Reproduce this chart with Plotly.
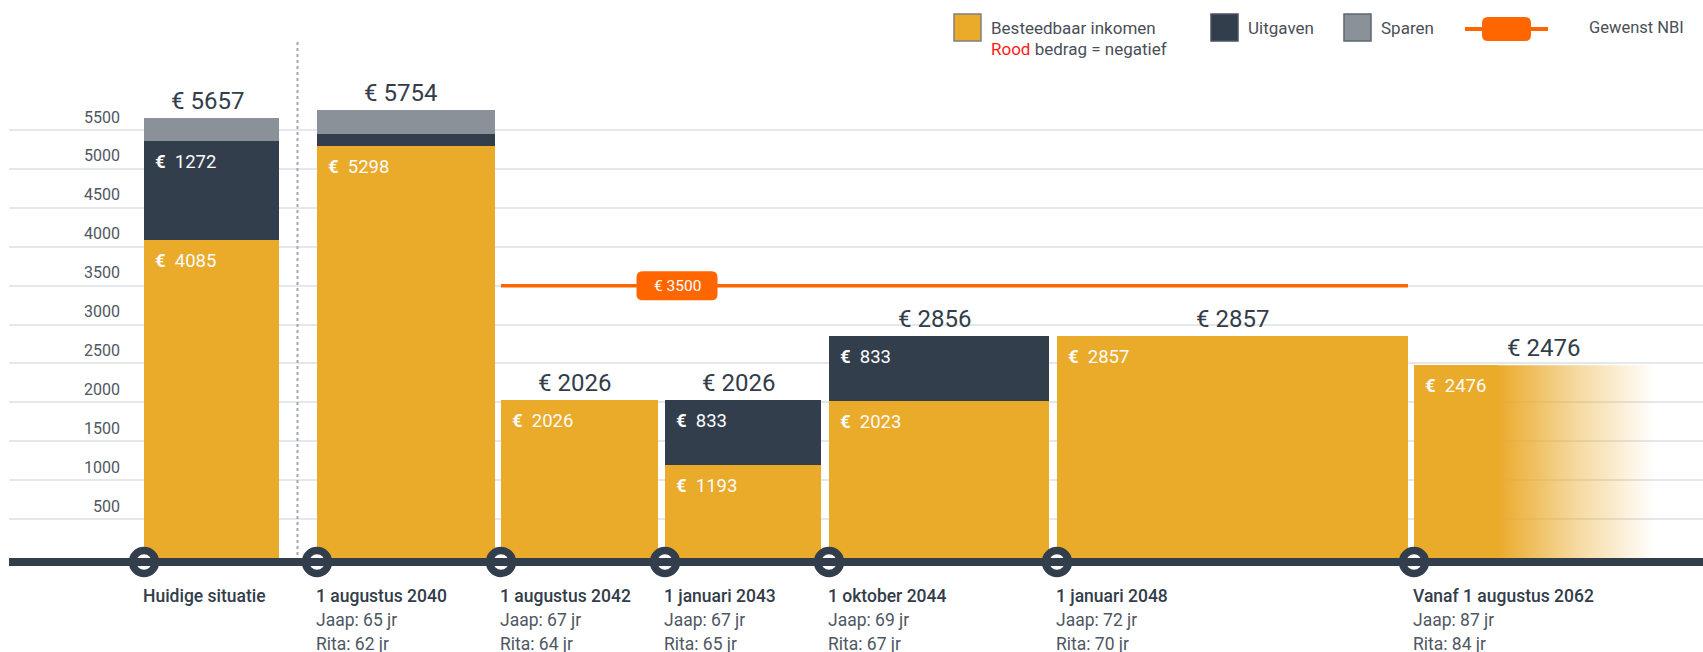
import plotly.graph_objects as go

# ---- gegevens ----
momenten = ["Huidige situatie", "1 augustus 2040", "1 augustus 2042", "1 januari 2043",
            "1 oktober 2044", "1 januari 2048", "Vanaf 1 augustus 2062"]
leeftijd_jaap = [None, 65, 67, 67, 69, 72, 87]
leeftijd_rita = [None, 62, 64, 65, 67, 70, 84]
inkomen = [4085, 5298, 2026, 1193, 2023, 2857, 2476]
uitgaven = [1272, 156, 0, 833, 833, 0, 0]
sparen = [300, 300, 0, 0, 0, 0, 0]
totaal = [5657, 5754, 2026, 2026, 2856, 2857, 2476]
gewenst_nbi = 3500
y_ticks = [500, 1000, 1500, 2000, 2500, 3000, 3500, 4000, 4500, 5000, 5500]

# ---- opmaak ----
W, H = 1703, 652
Y0 = 558                 # pixel van waarde 0
K = 428 / 5500           # pixels per euro
X_MIN = 9
BAR_L = [144, 317, 501, 665, 829, 1057, 1414]
BAR_R = [279, 495, 658, 821, 1049, 1408, 1498]
FADE_END = 1655
LABEL_X = [207, 400, 574, 738, 934, 1232, 1543]

GEEL = "#EAAA2A"
DONKER = "#333E4D"
GRIJS = "#8B9199"
ORANJE = "#FF6600"
TEKST = "#333D4A"
SUBTEKST = "#4E5762"
FONT = "Roboto, Arial, sans-serif"


def py(p):
    return 1 - p / H


def rrect(x0, x1, y0, y1, r):
    # afgeronde rechthoek in pixels (x als data-x, y als paper)
    a, b = py(y0), py(y1)
    rv = r / H
    return (f"M {x0 + r},{a} L {x1 - r},{a} Q {x1},{a} {x1},{a - rv} "
            f"L {x1},{b + rv} Q {x1},{b} {x1 - r},{b} L {x0 + r},{b} "
            f"Q {x0},{b} {x0},{b + rv} L {x0},{a - rv} Q {x0},{a} {x0 + r},{a} Z")


centers = [(l + r) / 2 for l, r in zip(BAR_L, BAR_R)]
widths = [r - l for l, r in zip(BAR_L, BAR_R)]

fig = go.Figure()
for naam, vals, kleur in [("Besteedbaar inkomen", inkomen, GEEL),
                          ("Uitgaven", uitgaven, DONKER),
                          ("Sparen", sparen, GRIJS)]:
    fig.add_trace(go.Bar(x=centers, y=vals, width=widths, name=naam,
                         marker=dict(color=kleur, line=dict(width=0)),
                         showlegend=False, hoverinfo="skip"))

# uitlopende laatste balk
fig.add_trace(go.Scatter(
    x=[BAR_R[-1] - 1, BAR_R[-1] - 1, FADE_END, FADE_END, BAR_R[-1] - 1],
    y=[0, inkomen[-1], inkomen[-1], 0, 0],
    mode="lines", line=dict(width=0), fill="toself",
    fillgradient=dict(type="horizontal",
                      colorscale=[[0, "rgba(234,170,42,1)"], [0.5, "rgba(234,170,42,0.45)"],
                                  [1, "rgba(234,170,42,0)"]]),
    showlegend=False, hoverinfo="skip"))

# gewenst NBI
fig.add_trace(go.Scatter(x=[BAR_L[2], BAR_R[5]], y=[gewenst_nbi, gewenst_nbi],
                         mode="lines", line=dict(color=ORANJE, width=3.5),
                         showlegend=False, hoverinfo="skip"))

shapes = []
annotations = []

# tijdlijn
shapes.append(dict(type="rect", xref="paper", yref="paper", x0=0, x1=1,
                   y0=py(566), y1=py(558), fillcolor=DONKER, line=dict(width=0),
                   layer="above"))
shapes.append(dict(type="line", xref="x", yref="paper", x0=297.5, x1=297.5,
                   y0=py(42), y1=py(557), line=dict(color="#A3A8AE", width=2, dash="dot")))

fig.add_trace(go.Scatter(x=BAR_L, y=[-4 / K] * len(BAR_L), mode="markers",
                         marker=dict(size=23, color="white", line=dict(color=DONKER, width=7.5)),
                         cliponaxis=False, showlegend=False, hoverinfo="skip"))

# NBI label
cy = Y0 - gewenst_nbi * K
shapes.append(dict(type="path", xref="x", yref="paper",
                   path=rrect(636.5, 717.5, cy - 14.5, cy + 14.5, 6),
                   fillcolor=ORANJE, line=dict(width=0), layer="above"))
annotations.append(dict(x=677, y=gewenst_nbi, text=f"€ {gewenst_nbi}", showarrow=False,
                        font=dict(family=FONT, size=15.5, color="white")))

# totalen en segmentlabels
for i in range(len(totaal)):
    annotations.append(dict(x=LABEL_X[i], y=totaal[i], yshift=17, text=f"€ {totaal[i]}",
                            showarrow=False, yanchor="middle",
                            font=dict(family=FONT, size=24, color=TEKST)))
    top = 0
    for vals in (inkomen, uitgaven):
        top += vals[i]
        if vals[i] >= 500:
            annotations.append(dict(x=BAR_L[i] + 9, y=top, yshift=-21, xanchor="left",
                                    yanchor="middle", showarrow=False,
                                    text=f"<b>€</b>\u00a0\u00a0{vals[i]}",
                                    font=dict(family=FONT, size=18.5, color="#FBFBFB")))

# y-as labels
for t in y_ticks:
    annotations.append(dict(x=122, y=t, yshift=13, xanchor="right", yanchor="middle",
                            text=str(t), showarrow=False,
                            font=dict(family=FONT, size=16, color=SUBTEKST)))

# tijdlijnlabels
for i, m in enumerate(momenten):
    x = BAR_L[i] - 3
    annotations.append(dict(x=x, y=py(596), yref="paper", xanchor="left", yanchor="middle",
                            text=m, showarrow=False,
                            font=dict(family=FONT, size=17.5, color=TEKST, weight=500)))
    if leeftijd_jaap[i] is not None:
        annotations.append(dict(x=x, y=py(620), yref="paper", xanchor="left", yanchor="middle",
                                text=f"Jaap: {leeftijd_jaap[i]} jr", showarrow=False,
                                font=dict(family=FONT, size=17.5, color=SUBTEKST)))
        annotations.append(dict(x=x, y=py(644), yref="paper", xanchor="left", yanchor="middle",
                                text=f"Rita: {leeftijd_rita[i]} jr", showarrow=False,
                                font=dict(family=FONT, size=17.5, color=SUBTEKST)))

# legenda
for x0, kleur, rand, tekst in [(954, GEEL, "#808080", "Besteedbaar inkomen"),
                               (1211, DONKER, "#4A5360", "Uitgaven"),
                               (1344, GRIJS, "#5E6570", "Sparen")]:
    shapes.append(dict(type="rect", xref="x", yref="paper", x0=x0, x1=x0 + 27,
                       y0=py(41), y1=py(14), fillcolor=kleur, line=dict(color=rand, width=1.5)))
    annotations.append(dict(x=x0 + 35, y=py(28), yref="paper", xanchor="left", yanchor="middle",
                            text=tekst, showarrow=False,
                            font=dict(family=FONT, size=17, color="#4A4F57")))
annotations.append(dict(x=989, y=py(49), yref="paper", xanchor="left", yanchor="middle",
                        text="<span style='color:#FF1A1A'>Rood</span> bedrag = negatief",
                        showarrow=False, font=dict(family=FONT, size=17, color="#4A4F57")))
shapes.append(dict(type="line", xref="x", yref="paper", x0=1465, x1=1548,
                   y0=py(29), y1=py(29), line=dict(color=ORANJE, width=4)))
shapes.append(dict(type="path", xref="x", yref="paper", path=rrect(1482, 1531, 17, 41, 6),
                   fillcolor=ORANJE, line=dict(width=0)))
annotations.append(dict(x=1587, y=py(28), yref="paper", xanchor="left", yanchor="middle",
                        text="Gewenst NBI", showarrow=False,
                        font=dict(family=FONT, size=16.5, color="#4A4F57")))

fig.update_layout(
    width=W, height=H,
    margin=dict(l=X_MIN, r=0, t=0, b=0),
    paper_bgcolor="white", plot_bgcolor="white",
    barmode="stack", bargap=0,
    showlegend=False,
    shapes=shapes, annotations=annotations,
    font=dict(family=FONT),
    xaxis=dict(range=[X_MIN, W], visible=False, fixedrange=True),
    yaxis=dict(range=[(Y0 - H) / K, Y0 / K], tickvals=y_ticks, showticklabels=False,
               showgrid=True, gridcolor="#E4E8ED", gridwidth=1.5, zeroline=False,
               showline=False, fixedrange=True),
)

fig.write_html("out.html", config={"displayModeBar": False},
               post_script="document.body.style.margin='0px';")
